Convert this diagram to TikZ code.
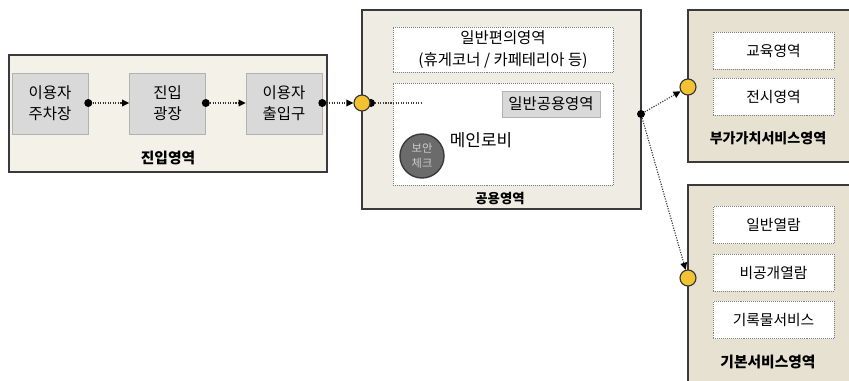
\documentclass[tikz,border=0pt]{standalone}
\usepackage{fontspec}
\setmainfont{Noto Sans CJK KR}
\usepackage{xcolor}
\usetikzlibrary{positioning, arrows.meta, fit, calc}
\definecolor{entrybeige}{HTML}{F3F1E8}
\definecolor{publicbeige}{HTML}{EEECE3}
\definecolor{servicebeige}{HTML}{E6E1D1}
\definecolor{roomgray}{HTML}{D9D9D9}
\definecolor{portyellow}{HTML}{F2C232}
\definecolor{edgegray}{HTML}{3A3A3A}

\tikzset{
  areabox/.style={draw=edgegray, line width=1.1pt, inner sep=0pt},
  roombox/.style={fill=roomgray, draw=gray!60, inner sep=0pt, align=center,
                  minimum width=1.9cm, minimum height=1.52cm,
                  font=\fontsize{11}{15}\selectfont},
  spacebox/.style={fill=white, draw=gray, densely dotted, inner sep=0pt, align=center,
                   minimum width=3.025cm, minimum height=0.925cm,
                   font=\fontsize{10.5}{14}\selectfont},
  arealabel/.style={font=\fontsize{10}{12}\selectfont\bfseries},
  port/.style={circle, fill=portyellow, draw=black!80, line width=0.8pt,
               minimum size=0.4cm, inner sep=0pt},
  joint/.style={circle, fill=black, minimum size=0.2cm, inner sep=0pt},
  flow/.style={densely dotted, draw=black!80, line width=0.8pt,
               -{Triangle[length=5pt, width=5pt, fill=black, line width=0pt]}},
}

\begin{document}
\begin{tikzpicture}[x=0.025cm, y=-0.025cm]
    \useasboundingbox (0,0) rectangle (849,381);

    % entry area
    \node[areabox, fill=entrybeige, fit={(9,55) (327,172)}] (entry) {};
    \node[roombox] (park) at (50,103.5) {이용자\\주차장};
    \node[roombox] (plaza) at (167.5,103.5) {진입\\광장};
    \node[roombox] (gate) at (284,103.5) {이용자\\출입구};
    \node[arealabel, font=\fontsize{10.5}{12}\selectfont\bfseries] (entrylabel) at (168,158) {진입영역};

    % public area
    \node[areabox, fill=publicbeige, fit={(362,10) (641,209)}] (public) {};
    \node[spacebox, minimum width=5.5cm, minimum height=1.125cm,
          font=\fontsize{11}{16}\selectfont] (rest) at (503,49.5)
      {일반편의영역\\(휴게코너 / 카페테리아 등)};
    \node[spacebox, minimum width=5.5cm, minimum height=2.55cm] (lobby) at (503,134) {};
    \node[roombox, minimum width=2.45cm, minimum height=0.65cm] (commons) at (551,104) {일반공용영역};
    \node[font=\fontsize{12}{14}\selectfont] (lobbytext) at (481,140) {메인로비};
    \node[circle, fill=black!58, draw=edgegray, line width=1pt, minimum size=1.1cm,
          inner sep=0pt, align=center, text=black!20,
          font=\fontsize{8}{11}\selectfont] (security) at (422,156) {보안\\체크};
    \node[arealabel, font=\fontsize{9.5}{12}\selectfont\bfseries] (publiclabel) at (500,199) {공용영역};

    % service areas
    \node[areabox, fill=servicebeige, fit={(688,10) (870,162)}] (value) {};
    \node[spacebox] (edu) at (773.5,50.5) {교육영역};
    \node[spacebox] (exhibit) at (773.5,96.5) {전시영역};
    \node[arealabel] (valuelabel) at (768,138) {부가가치서비스영역};

    \node[areabox, fill=servicebeige, fit={(688,185) (870,400)}] (basic) {};
    \node[spacebox] (reading) at (773.5,225) {일반열람};
    \node[spacebox] (closed) at (773.5,272.5) {비공개열람};
    \node[spacebox] (records) at (773.5,320) {기록물서비스};
    \node[arealabel, font=\fontsize{10.5}{12}\selectfont\bfseries] (basiclabel) at (768,362) {기본서비스영역};

    % connectors
    \node[joint] (j1) at (park.east |- 0,103) {};
    \node[joint] (j2) at (plaza.east |- 0,103) {};
    \node[joint] (j3) at (gate.east |- 0,103) {};
    \draw[flow] (j1) -- (plaza.west |- j1);
    \draw[flow] (j2) -- (gate.west |- j2);

    \node[joint] (j4) at (371,103) {};
    \node[port] (in1) at (362,103) {};
    \draw[flow] (j3) -- (in1);
    \coordinate (lobbyend) at (422,103);
    \draw[densely dotted, draw=black!75, line width=0.8pt] (j4) -- (lobbyend);

    \node[joint] (hub) at (641,114) {};
    \node[port] (in2) at (688,87) {};
    \node[port] (in3) at (688,278) {};
    \draw[flow] (hub) -- (in2);
    \draw[flow] (hub) -- (in3);
\end{tikzpicture}
\end{document}
